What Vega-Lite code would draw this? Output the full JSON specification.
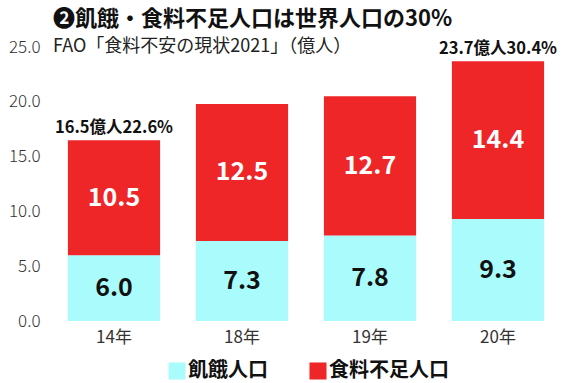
{
  "$schema": "https://vega.github.io/schema/vega-lite/v6.json",
  "autosize": "none",
  "width": 512,
  "height": 274,
  "padding": {"left": 50, "top": 47, "right": 1, "bottom": 62},
  "background": "white",
  "config": {"view": {"stroke": null}, "font": "Noto Sans CJK JP"},
  "title": {
    "text": "❷飢餓・食料不足人口は世界人口の30%",
    "subtitle": "FAO「食料不安の現状2021」（億人）",
    "anchor": "start",
    "frame": "group",
    "dx": 3,
    "offset": -19,
    "font": "Noto Sans CJK JP",
    "fontSize": 22,
    "fontWeight": "bold",
    "color": "#111111",
    "subtitleFont": "Noto Sans CJK JP",
    "subtitleFontSize": 18,
    "subtitleFontWeight": "normal",
    "subtitleColor": "#222222",
    "subtitlePadding": 7
  },
  "datasets": {
    "pop": [
      {"year": "14年", "type": "飢餓人口", "value": 6.0},
      {"year": "14年", "type": "食料不足人口", "value": 10.5},
      {"year": "18年", "type": "飢餓人口", "value": 7.3},
      {"year": "18年", "type": "食料不足人口", "value": 12.5},
      {"year": "19年", "type": "飢餓人口", "value": 7.8},
      {"year": "19年", "type": "食料不足人口", "value": 12.7},
      {"year": "20年", "type": "飢餓人口", "value": 9.3},
      {"year": "20年", "type": "食料不足人口", "value": 14.4}
    ],
    "total": [
      {"year": "14年", "total": 16.5, "label": "16.5億人22.6%"},
      {"year": "20年", "total": 23.7, "label": "23.7億人30.4%"}
    ]
  },
  "layer": [
    {
      "data": {"name": "pop"},
      "mark": {"type": "bar"},
      "encoding": {
        "x": {
          "field": "year", "type": "nominal",
          "sort": ["14年", "18年", "19年", "20年"],
          "scale": {"paddingInner": 0.28, "paddingOuter": 0.14},
          "axis": {
            "title": null, "labelAngle": 0, "domain": false, "ticks": false, "tickSize": 0,
            "labelPadding": 8, "labelFontSize": 17, "labelColor": "#333333",
            "labelFont": "Noto Sans CJK JP"
          }
        },
        "y": {
          "field": "value", "type": "quantitative", "stack": "zero",
          "scale": {"domain": [0, 25], "nice": false},
          "axis": {
            "title": null, "values": [0, 5, 10, 15, 20, 25], "format": ".1f",
            "domain": false, "ticks": false, "tickSize": 0, "grid": false,
            "labelPadding": 10, "labelFontSize": 17, "labelColor": "#333333",
            "labelFont": "Noto Sans CJK JP", "labelFontWeight": 300
          }
        },
        "color": {
          "field": "type", "type": "nominal",
          "scale": {"domain": ["飢餓人口", "食料不足人口"], "range": ["#aafcfc", "#ee2628"]},
          "legend": {
            "title": null, "orient": "none", "direction": "horizontal",
            "legendX": 117, "legendY": 314,
            "symbolType": "square", "symbolSize": 290, "symbolStrokeWidth": 0,
            "labelFontSize": 20, "labelFontWeight": "bold", "labelColor": "#111111",
            "labelFont": "Noto Sans CJK JP", "labelOffset": 1, "columnPadding": 40
          }
        },
        "order": {"field": "type", "sort": "descending"}
      }
    },
    {
      "data": {"name": "pop"},
      "transform": [
        {"stack": "value", "groupby": ["year"], "sort": [{"field": "type", "order": "descending"}], "as": ["v0", "v1"]},
        {"calculate": "(datum.v0 + datum.v1) / 2", "as": "mid"}
      ],
      "mark": {"type": "text", "fontSize": 25, "fontWeight": "bold", "font": "Noto Sans CJK JP", "baseline": "middle"},
      "encoding": {
        "x": {"field": "year", "type": "nominal", "sort": ["14年", "18年", "19年", "20年"]},
        "y": {"field": "mid", "type": "quantitative"},
        "text": {"field": "value", "type": "quantitative", "format": ".1f"},
        "color": {
          "condition": {"test": "datum.type === '食料不足人口'", "value": "#ffffff"},
          "value": "#111111"
        }
      }
    },
    {
      "data": {"name": "total"},
      "mark": {"type": "text", "fontSize": 16.5, "fontWeight": "bold", "font": "Noto Sans CJK JP", "baseline": "alphabetic", "dy": -7, "color": "#111111"},
      "encoding": {
        "x": {"field": "year", "type": "nominal", "sort": ["14年", "18年", "19年", "20年"]},
        "y": {"field": "total", "type": "quantitative"},
        "text": {"field": "label", "type": "nominal"}
      }
    }
  ]
}
